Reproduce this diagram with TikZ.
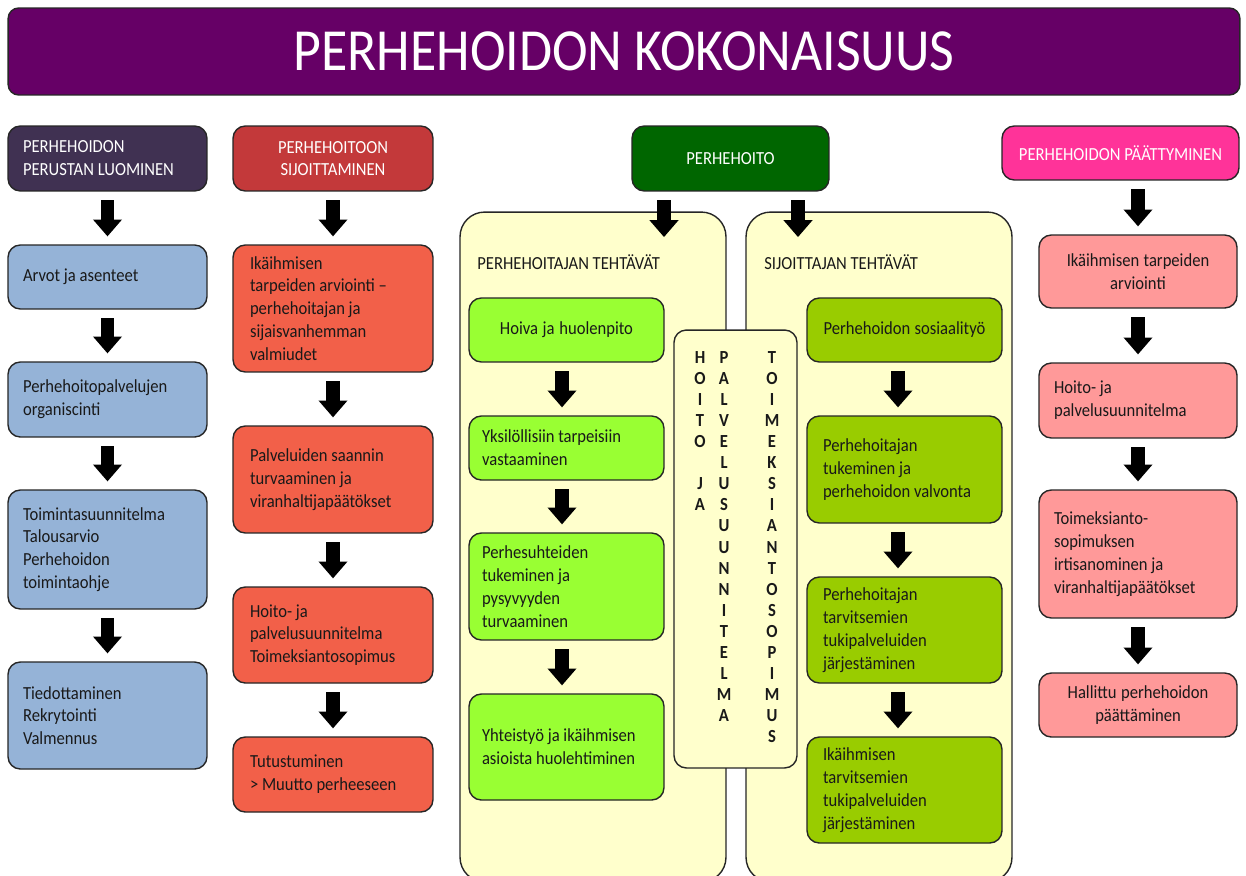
\documentclass[tikz,border=0pt]{standalone}
\usepackage{fontspec}
\setmainfont{Carlito}[FakeStretch=0.9]
\usetikzlibrary{arrows.meta, positioning, calc}
\usepackage{xcolor}
% Colors
\definecolor{titlePurple}{HTML}{660066}
\definecolor{hdrPlum}{HTML}{403152}
\definecolor{hdrRed}{HTML}{C3393A}
\definecolor{hdrGreen}{HTML}{006600}
\definecolor{hdrPink}{HTML}{FF3399}
\definecolor{boxBlue}{HTML}{95B3D7}
\definecolor{boxCoral}{HTML}{F26049}
\definecolor{boxLime}{HTML}{99FF33}
\definecolor{boxOlive}{HTML}{99CC00}
\definecolor{boxRose}{HTML}{FF9999}
\definecolor{panelCream}{HTML}{FFFFCC}
\tikzset{
    font=\fontsize{10.5}{13}\selectfont,
    % Shapes
    box/.style={rectangle, draw=black!85, line width=0.8pt, rounded corners=7pt,
                inner xsep=0.3cm, inner ysep=2pt, text=black!90, align=left,
                execute at begin node={\spaceskip=0pt\xspaceskip=0pt}},
    hdr/.style={box, text=white, align=center},
    panel/.style={rectangle, draw=black!85, line width=0.8pt, rounded corners=14pt,
                  fill=panelCream, minimum width=5.32cm, minimum height=13.4cm},
    colA/.style={box, fill=boxBlue, text width=3.38cm},
    colB/.style={box, fill=boxCoral, inner xsep=0.34cm, text width=3.32cm},
    colC/.style={box, fill=boxLime, inner xsep=0.26cm, text width=3.38cm},
    colD/.style={box, fill=boxOlive, inner xsep=0.32cm, text width=3.26cm},
    colE/.style={box, fill=boxRose, inner xsep=0.3cm, text width=3.36cm},
    ptitle/.style={anchor=west, inner sep=0pt, text=black!90},
    vletters/.style={anchor=north, inner sep=0pt, align=center, text=black!90,
                     font=\fontsize{10.5}{12}\selectfont\bfseries},
    % Flow
    bigarrow/.style={line width=7.9pt, -{Triangle[width=15.9pt,length=9.6pt]},
                     shorten <=5pt, shorten >=4.5pt}
}
\begin{document}
\begin{tikzpicture}[x=0.02cm, y=-0.02cm]
\fill[white] (0,0) rectangle (1246,875);
\useasboundingbox (0,0) rectangle (1246,875);

% title
\node[box, fill=titlePurple, text=white, align=center, rounded corners=6pt,
      minimum width=24.64cm, minimum height=1.74cm,
      font=\fontsize{34}{40}\selectfont] (title) at (624,51.5) {PERHEHOIDON KOKONAISUUS};

% column 1
\node[colA, fill=hdrPlum, text=white, minimum height=1.3cm] (hdrA) at (107.5,158.5) {PERHEHOIDON\\PERUSTAN LUOMINEN};
\node[colA, minimum height=1.28cm] (arvot) at (107.5,277) {Arvot ja asenteet};
\node[colA, minimum height=1.5cm] (organ) at (107.5,399.5) {Perhehoitopalvelujen\\organiscinti};
\node[colA, minimum height=2.38cm] (suunn) at (107.5,549.5) {Toimintasuunnitelma\\Talousarvio\\Perhehoidon\\toimintaohje};
\node[colA, minimum height=2.14cm] (rekry) at (107.5,715.5) {Tiedottaminen\\Rekrytointi\\Valmennus};

% column 2
\node[colB, fill=hdrRed, text=white, align=center, minimum height=1.3cm] (hdrB) at (333,158.5) {PERHEHOITOON\\SIJOITTAMINEN};
\node[colB, minimum height=2.54cm] (arvio) at (333,308.5) {Ikäihmisen\\tarpeiden arviointi --\\perhehoitajan ja\\sijaisvanhemman\\valmiudet};
\node[colB, minimum height=2.14cm] (saanti) at (333,479.5) {Palveluiden saannin\\turvaaminen ja\\viranhaltijapäätökset};
\node[colB, minimum height=1.92cm] (hoitosuun) at (333,635) {Hoito- ja\\palvelusuunnitelma\\Toimeksiantosopimus};
\node[colB, minimum height=1.5cm] (muutto) at (333,774.5) {Tutustuminen\\> Muutto perheeseen};

% column 3: panels
\node[panel] (panelL) at (593,547) {};
\node[panel] (panelR) at (879,547) {};
\node[box, fill=panelCream, rounded corners=7pt, minimum width=2.46cm, minimum height=8.76cm] (mid) at (735.5,549) {};
\node[hdr, fill=hdrGreen, minimum width=3.94cm, minimum height=1.3cm] (hdrC) at (730.5,158.5) {PERHEHOITO};
\coordinate (tipL) at (664,245);
\coordinate (tipR) at (798,245);

\node[ptitle] (tehtL) at (477,262) {PERHEHOITAJAN TEHTÄVÄT};
\node[ptitle] (tehtR) at (764,262) {SIJOITTAJAN TEHTÄVÄT};

\node[colC, align=center, minimum height=1.28cm] (hoiva) at (566.5,330) {Hoiva ja huolenpito};
\node[colC, minimum height=1.28cm] (yksil) at (566.5,448) {Yksilöllisiin tarpeisiin\\vastaaminen};
\node[colC, minimum height=2.14cm] (suhteet) at (566.5,586.5) {Perhesuhteiden\\tukeminen ja\\pysyvyyden\\turvaaminen};
\node[colC, minimum height=2.12cm] (yhteis) at (566.5,747) {Yhteistyö ja ikäihmisen\\asioista huolehtiminen};

\node[colD, align=center, inner xsep=0.1cm, text width=3.7cm, minimum height=1.28cm] (sosiaali) at (904.5,330) {Perhehoidon sosiaalityö};
\node[colD, minimum height=2.14cm] (valvonta) at (904.5,469.5) {Perhehoitajan\\tukeminen ja\\perhehoidon valvonta};
\node[colD, minimum height=2.12cm] (tukiP) at (904.5,630) {Perhehoitajan\\tarvitsemien\\tukipalveluiden\\järjestäminen};
\node[colD, minimum height=2.12cm] (tukiI) at (904.5,790) {Ikäihmisen\\tarvitsemien\\tukipalveluiden\\järjestäminen};

\node[vletters] (hoitoja) at (700,351) {H\\O\\I\\T\\O\\\mbox{}\\J\\A};
\node[vletters] (palvelu) at (724,351) {P\\A\\L\\V\\E\\L\\U\\S\\U\\U\\N\\N\\I\\T\\E\\L\\M\\A};
\node[vletters] (toimeks) at (772,351) {T\\O\\I\\M\\E\\K\\S\\I\\A\\N\\T\\O\\S\\O\\P\\I\\M\\U\\S};

% column 4
\node[hdr, fill=hdrPink, minimum width=4.74cm, minimum height=1.08cm] (hdrD) at (1120.5,153) {PERHEHOIDON PÄÄTTYMINEN};
\node[colE, align=center, minimum height=1.46cm] (tarve) at (1138,271.5) {Ikäihmisen tarpeiden\\arviointi};
\node[colE, minimum height=1.5cm] (hoitoE) at (1138,400.5) {Hoito- ja\\palvelusuunnitelma};
\node[colE, minimum height=2.56cm] (irtisan) at (1138,554) {Toimeksianto-\\sopimuksen\\irtisanominen ja\\viranhaltijapäätökset};
\node[colE, align=center, minimum height=1.28cm] (hallittu) at (1138,705) {Hallittu perhehoidon\\päättäminen};

% arrows
\draw[bigarrow] (hdrA) -- (arvot);
\draw[bigarrow] (arvot) -- (organ);
\draw[bigarrow] (organ) -- (suunn);
\draw[bigarrow] (suunn) -- (rekry);

\draw[bigarrow] (hdrB) -- (arvio);
\draw[bigarrow] (arvio) -- (saanti);
\draw[bigarrow] (saanti) -- (hoitosuun);
\draw[bigarrow] (hoitosuun) -- (muutto);

\draw[bigarrow] (hdrC.south -| tipL) -- (tipL);
\draw[bigarrow] (hdrC.south -| tipR) -- (tipR);

\draw[bigarrow] (hoiva.south -| 562,0) -- (yksil.north -| 562,0);
\draw[bigarrow] (yksil.south -| 562,0) -- (suhteet.north -| 562,0);
\draw[bigarrow] (suhteet.south -| 562,0) -- (yhteis.north -| 562,0);

\draw[bigarrow] (sosiaali.south -| 898,0) -- (valvonta.north -| 898,0);
\draw[bigarrow] (valvonta.south -| 898,0) -- (tukiP.north -| 898,0);
\draw[bigarrow] (tukiP.south -| 898,0) -- (tukiI.north -| 898,0);

\draw[bigarrow] (hdrD.south -| tarve.north) -- (tarve.north);
\draw[bigarrow] (tarve) -- (hoitoE);
\draw[bigarrow] (hoitoE) -- (irtisan);
\draw[bigarrow] (irtisan) -- (hallittu);

\end{tikzpicture}
\end{document}
